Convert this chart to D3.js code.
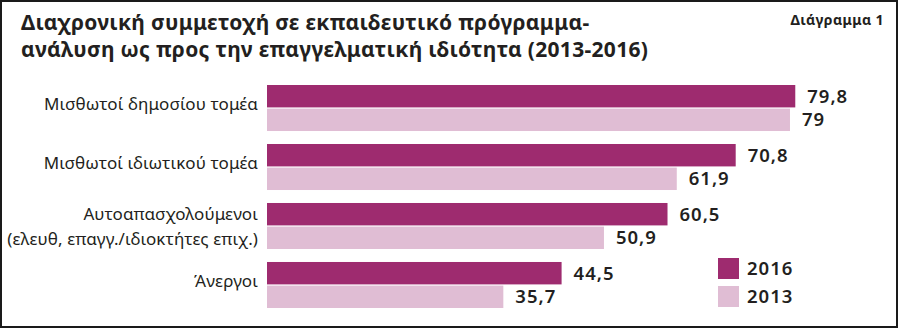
<!DOCTYPE html>
<html>
<head>
<meta charset="utf-8">
<script src="https://cdn.jsdelivr.net/npm/d3@7"></script>
<style>
  html, body { margin: 0; padding: 0; background: #fff; }
  svg { display: block; }
  text { font-family: "Noto Sans", "DejaVu Sans", sans-serif; fill: #231f20; }
</style>
</head>
<body>
<div id="chart"></div>
<script>
// Participation in training programmes by employment status (%)
const categories = [
  ["Μισθωτοί δημοσίου τομέα"],
  ["Μισθωτοί ιδιωτικού τομέα"],
  ["Αυτοαπασχολούμενοι", "(ελευθ, επαγγ./ιδιοκτήτες επιχ.)"],
  ["Άνεργοι"]
];
const values2016 = [79.8, 70.8, 60.5, 44.5];
const values2013 = [79, 61.9, 50.9, 35.7];
const seriesNames = ["2016", "2013"];
const titleLines = [
  "Διαχρονική συμμετοχή σε εκπαιδευτικό πρόγραμμα-",
  "ανάλυση ως προς την επαγγελματική ιδιότητα (2013-2016)"
];
const chartTag = "Διάγραμμα 1";

const W = 900, H = 329;
const colors = ["#9e2b6f", "#e0bdd4"];
const fmt = v => String(v).replace(".", ",");

const svg = d3.select("#chart").append("svg")
  .attr("width", W).attr("height", H);

// frame
svg.append("rect")
  .attr("x", 1).attr("y", 1).attr("width", 896).attr("height", 326)
  .attr("fill", "#fff").attr("stroke", "#1a1a1a").attr("stroke-width", 2);

// title
svg.append("g").selectAll("text").data(titleLines).join("text")
  .attr("x", 21).attr("y", (d, i) => 30 + i * 27)
  .attr("font-size", 21).attr("font-weight", 700)
  .attr("letter-spacing", 0.3)
  .text(d => d);

svg.append("text")
  .attr("x", 884).attr("y", 25).attr("text-anchor", "end")
  .attr("font-size", 14).attr("font-weight", 700)
  .attr("letter-spacing", 0.4)
  .text(chartTag);

// scales
const x = d3.scaleLinear().domain([0, 100]).range([267, 929]);
const yGroup = d3.scaleBand().domain(d3.range(categories.length))
  .range([85, 308]).paddingInner(0.22).paddingOuter(0);
const ySeries = d3.scaleBand().domain(d3.range(2))
  .range([0, yGroup.bandwidth()]).paddingInner(0.05);

const rows = categories.map((c, i) => ({ i, label: c, vals: [values2016[i], values2013[i]] }));

const g = svg.append("g");
const groups = g.selectAll("g.grp").data(rows).join("g")
  .attr("class", "grp")
  .attr("transform", d => `translate(0,${yGroup(d.i)})`);

groups.selectAll("rect").data(d => d.vals.map((v, s) => ({ v, s }))).join("rect")
  .attr("x", x(0))
  .attr("y", d => ySeries(d.s))
  .attr("width", d => x(d.v) - x(0))
  .attr("height", ySeries.bandwidth())
  .attr("fill", d => colors[d.s]);

groups.selectAll("text.val").data(d => d.vals.map((v, s) => ({ v, s }))).join("text")
  .attr("class", "val")
  .attr("x", d => x(d.v) + 12)
  .attr("y", d => ySeries(d.s) + ySeries.bandwidth() / 2)
  .attr("dy", "0.36em")
  .attr("font-size", 18.5).attr("font-weight", 600)
  .attr("letter-spacing", 1)
  .text(d => fmt(d.v));

// category labels
groups.append("text")
  .attr("class", "cat")
  .attr("text-anchor", "end")
  .attr("font-size", 17)
  .attr("letter-spacing", 0.1)
  .each(function (d) {
    const t = d3.select(this);
    const n = d.label.length;
    const mid = yGroup.bandwidth() / 2;
    const lh = 25;
    d.label.forEach((line, k) => {
      t.append("tspan")
        .attr("x", 258)
        .attr("y", mid + 2 + (n - 1) * 4.5 + (k - (n - 1) / 2) * lh)
        .text(line);
    });
  });

// legend
const legend = svg.append("g").attr("transform", "translate(718,258)");
legend.selectAll("rect").data(seriesNames).join("rect")
  .attr("x", 0).attr("y", (d, i) => i * 28)
  .attr("width", 21).attr("height", 21)
  .attr("fill", (d, i) => colors[i]);
legend.selectAll("text").data(seriesNames).join("text")
  .attr("x", 29).attr("y", (d, i) => i * 28 + 10.5)
  .attr("dy", "0.36em")
  .attr("font-size", 18.5).attr("font-weight", 600)
  .attr("letter-spacing", 1)
  .text(d => d);
</script>
</body>
</html>
